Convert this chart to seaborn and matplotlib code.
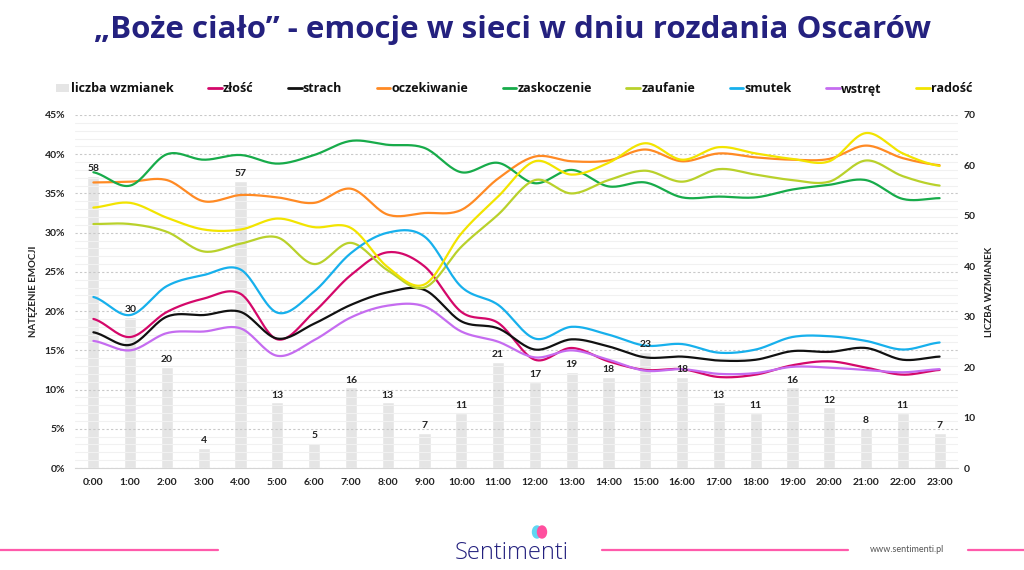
import numpy as np
import pandas as pd
import seaborn as sns
import matplotlib.pyplot as plt
from matplotlib.lines import Line2D
from matplotlib.patches import Patch, Ellipse
from matplotlib.ticker import MultipleLocator, FuncFormatter

godziny = ["%d:00" % h for h in range(24)]
wzmianki = [58, 30, 20, 4, 57, 13, 5, 16, 13, 7, 11, 21, 17, 19, 18, 23, 18, 13, 11, 16, 12, 8, 11, 7]

zlosc = [19.0, 16.7, 19.9, 21.6, 22.2, 16.4, 19.9, 24.6, 27.5, 25.7, 19.9, 18.5,
         13.8, 15.3, 13.6, 12.5, 12.6, 11.6, 11.9, 13.1, 13.6, 12.8, 11.9, 12.5]
strach = [17.3, 15.7, 19.3, 19.5, 19.9, 16.5, 18.4, 20.8, 22.4, 22.7, 18.7, 17.8,
          15.1, 16.4, 15.5, 14.1, 14.2, 13.7, 13.8, 14.9, 14.8, 15.3, 13.8, 14.2]
oczekiwanie = [36.4, 36.5, 36.7, 34.0, 34.8, 34.5, 33.8, 35.6, 32.3, 32.5, 32.9, 36.9,
               39.7, 39.1, 39.2, 40.6, 39.1, 40.1, 39.6, 39.3, 39.4, 41.1, 39.5, 38.6]
zaskoczenie = [37.7, 36.0, 40.0, 39.3, 39.9, 38.8, 39.9, 41.7, 41.2, 40.8, 37.7, 38.9,
               36.3, 38.0, 35.9, 36.4, 34.5, 34.6, 34.5, 35.5, 36.1, 36.7, 34.3, 34.4]
zaufanie = [31.1, 31.1, 30.1, 27.6, 28.6, 29.4, 26.0, 28.7, 25.2, 23.0, 28.2, 32.3,
            36.7, 35.0, 36.7, 37.9, 36.5, 38.1, 37.4, 36.7, 36.5, 39.2, 37.2, 36.0]
smutek = [21.8, 19.5, 23.2, 24.6, 25.3, 19.8, 22.5, 27.4, 30.0, 29.5, 23.1, 20.8,
          16.5, 18.0, 17.0, 15.6, 15.8, 14.7, 15.1, 16.7, 16.8, 16.2, 15.1, 16.0]
wstret = [16.2, 15.0, 17.2, 17.4, 17.8, 14.3, 16.3, 19.2, 20.7, 20.6, 17.4, 16.1,
          14.1, 15.0, 13.8, 12.4, 12.6, 12.0, 12.1, 12.9, 12.8, 12.5, 12.2, 12.6]
radosc = [33.2, 33.8, 31.9, 30.4, 30.4, 31.8, 30.7, 30.6, 25.6, 23.4, 29.9, 34.6,
          39.1, 37.4, 38.9, 41.4, 39.3, 40.9, 40.1, 39.4, 39.1, 42.7, 40.1, 38.5]

serie = [("złość", zlosc, "#d4086a"),
         ("strach", strach, "#111111"),
         ("oczekiwanie", oczekiwanie, "#ff8a24"),
         ("zaskoczenie", zaskoczenie, "#17ab4a"),
         ("zaufanie", zaufanie, "#b9d12b"),
         ("smutek", smutek, "#17b0ec"),
         ("wstręt", wstret, "#c56cf0"),
         ("radość", radosc, "#f2e400")]

NAVY = "#24217f"
PINK = "#ff5aab"


def wygladz(y, n=20):
    # catmull-rom, tylko do rysowania gladkiej linii
    y = np.asarray(y, float)
    p = np.concatenate([[y[0]], y, [y[-1]]])
    xs, ys = [], []
    t = np.linspace(0, 1, n, endpoint=False)
    for i in range(len(y) - 1):
        p0, p1, p2, p3 = p[i], p[i + 1], p[i + 2], p[i + 3]
        v = 0.5 * ((2 * p1) + (-p0 + p2) * t + (2 * p0 - 5 * p1 + 4 * p2 - p3) * t ** 2
                   + (-p0 + 3 * p1 - 3 * p2 + p3) * t ** 3)
        xs.extend(i + t)
        ys.extend(v)
    xs.append(len(y) - 1)
    ys.append(y[-1])
    return np.array(xs), np.array(ys)


sns.set_theme(style="white")
plt.rcParams['font.family'] = ['Lato', 'DejaVu Sans']

fig = plt.figure(figsize=(10.24, 5.70), dpi=100)
ax = fig.add_axes([75 / 1024, 102 / 570, 883 / 1024, 353 / 570])
ax2 = ax.twinx()

df = pd.DataFrame({"x": np.arange(24), "n": wzmianki})
sns.barplot(data=df, x="x", y="n", ax=ax2, native_scale=True, color="#e5e5e5",
            saturation=1, width=0.33, zorder=1)
# etykiety slupkow na gornej osi, zeby nie przykryla ich siatka
for x, v in zip(df["x"], wzmianki):
    ax.annotate(str(v), (x, v), xycoords=ax2.transData, xytext=(0, 2),
                textcoords="offset points", ha="center", va="bottom",
                fontsize=7.5, fontweight="bold", color="#222222", zorder=5)

for nazwa, vals, kol in serie:
    xs, ys = wygladz(vals)
    sns.lineplot(x=xs, y=ys, ax=ax, color=kol, lw=1.6, sort=False)

ax.set_zorder(ax2.get_zorder() + 1)
ax.patch.set_visible(False)

ax.set_xlim(-0.5, 23.5)
ax.set_ylim(0, 45)
ax2.set_ylim(0, 70)
ax.yaxis.set_major_locator(MultipleLocator(5))
ax.yaxis.set_minor_locator(MultipleLocator(1))
ax.yaxis.set_major_formatter(FuncFormatter(lambda v, p: "%d%%" % v))
ax2.yaxis.set_major_locator(MultipleLocator(10))
ax.grid(axis="y", which="major", color="#c9c9c9", lw=0.8, ls=(0, (2, 2)))
ax.grid(axis="y", which="minor", color="#f1f1f1", lw=0.8)
ax.grid(axis="x", visible=False)
ax2.grid(False)

ax.set_xticks(range(24))
ax.set_xticklabels(godziny)
ax.set_xticks(np.arange(-0.5, 24, 1), minor=True)
ax.tick_params(axis="x", which="major", length=0, pad=7, labelsize=7.5)
ax.tick_params(axis="x", which="minor", length=4, color="#d5d5d5", width=0.8)
ax.tick_params(axis="y", which="both", length=0, pad=7, labelsize=7.5)
ax2.tick_params(axis="y", length=0, pad=4, labelsize=7.5)
for t in ax.get_xticklabels() + ax.get_yticklabels() + ax2.get_yticklabels():
    t.set_fontweight("bold")
    t.set_color("#222222")

for s in ["top", "left", "right"]:
    ax.spines[s].set_visible(False)
for s in ax2.spines.values():
    s.set_visible(False)
ax.spines["bottom"].set_color("#d5d5d5")
ax.spines["bottom"].set_linewidth(0.8)

ax.set_xlabel("")
ax.set_ylabel("NATĘŻENIE EMOCJI", fontsize=7, fontweight="bold", color="#222222")
ax.yaxis.set_label_coords(-0.042, 0.5)
ax2.set_ylabel("LICZBA WZMIANEK", fontsize=7, fontweight="bold", color="#222222")
ax2.yaxis.set_label_coords(1.031, 0.5)

uchwyty = [Patch(facecolor="#e5e5e5", edgecolor="none")]
uchwyty += [Line2D([], [], color=k, lw=2) for _, _, k in serie]
etykiety = ["liczba wzmianek"] + [n for n, _, _ in serie]
leg = fig.legend(uchwyty, etykiety, ncol=9, loc="center", bbox_to_anchor=(0.502, 1 - 89 / 570),
                 frameon=False, prop={"family": "Open Sans", "weight": "bold", "size": 9},
                 handlelength=1.1, handleheight=0.6, handletextpad=0.1, columnspacing=2.75)
for t in leg.get_texts():
    t.set_color("#111111")

fig.text(0.5, 1 - 30 / 570, "„Boże ciało” - emocje w sieci w dniu rozdania Oscarów",
         ha="center", va="center", fontsize=22.5, fontweight="bold", color=NAVY,
         family="Open Sans")

# stopka
yl = 1 - 550 / 570
for a, b in [(0, 218), (602, 848), (968, 1024)]:
    fig.add_artist(Line2D([a / 1024, b / 1024], [yl, yl], color=PINK, lw=1.6))
fig.text(0.5, 1 - 553 / 570, "Sentimenti", ha="center", va="center", fontsize=17,
         color=NAVY, family="Open Sans", fontweight="light")
fig.add_artist(Ellipse((537 / 1024, 1 - 532 / 570), 9 / 1024, 12 / 570, color="#5fd6f2",
                       transform=fig.transFigure))
fig.add_artist(Ellipse((542 / 1024, 1 - 532 / 570), 9 / 1024, 12 / 570, color="#ff4f9e",
                       transform=fig.transFigure))
fig.text(907 / 1024, yl, "www.sentimenti.pl", ha="center", va="center", fontsize=6.5,
         color="#555555")

fig.savefig("out.png", dpi=100, facecolor="white")
